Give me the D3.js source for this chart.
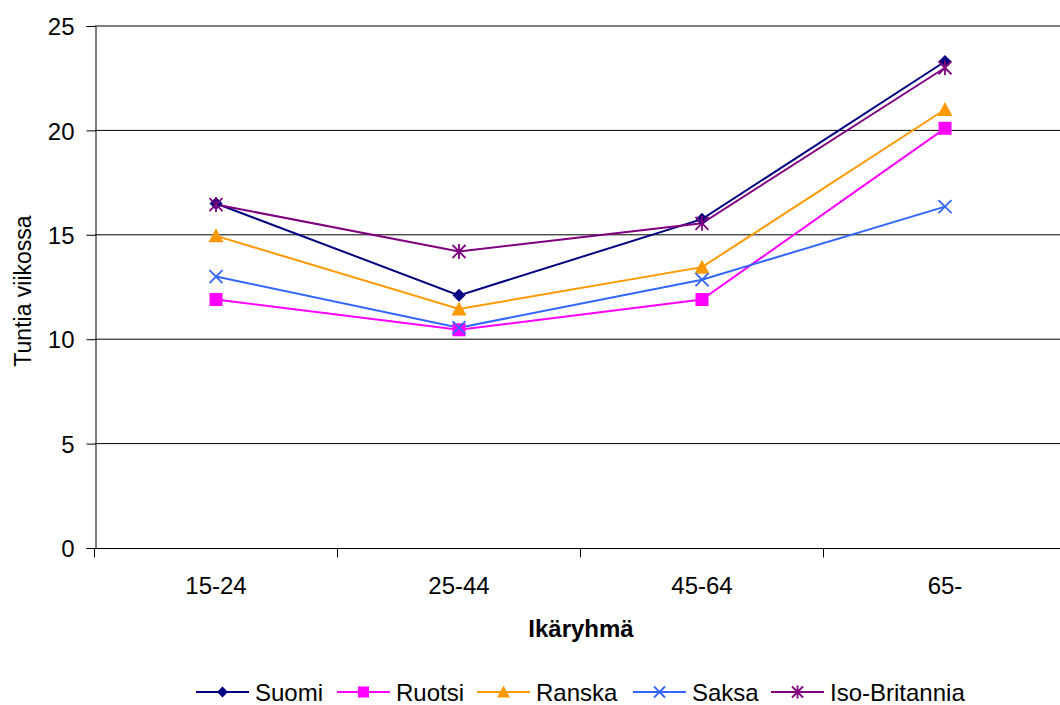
<!DOCTYPE html>
<html><head><meta charset="utf-8">
<script src="https://cdn.jsdelivr.net/npm/d3@7"></script>
<style>body{margin:0;background:#fff}svg{display:block}text{font-family:Arial,"Liberation Sans",sans-serif}</style>
</head><body>
<script>
const categories = ["15-24","25-44","45-64","65-"];
const seriesNames = ["Suomi","Ruotsi","Ranska","Saksa","Iso-Britannia"];
const suomi = [16.5, 12.1, 15.75, 23.3];
const ruotsi = [11.9, 10.45, 11.9, 20.1];
const ranska = [14.95, 11.45, 13.45, 21.0];
const saksa = [13.0, 10.55, 12.85, 16.35];
const isoBritannia = [16.45, 14.2, 15.55, 23.0];
const yTicks = [0,5,10,15,20,25];
const colors = ["#000080","#FF00FF","#FF9900","#3366FF","#800080"];
const markers = ["diamond","square","triangle","x","star"];
const values = [suomi, ruotsi, ranska, saksa, isoBritannia];

const W=1060,H=705;
const svg=d3.select("body").append("svg").attr("width",W).attr("height",H);
const x=d3.scaleBand().domain(categories).range([94.5,1066.5]);
const y=d3.scaleLinear().domain([0,25]).range([548,26]);

// gridlines
svg.append("g").selectAll("line").data(yTicks.filter(d=>d>0)).join("line")
  .attr("x1",95).attr("x2",W).attr("y1",d=>y(d)).attr("y2",d=>y(d))
  .attr("stroke","#000").attr("stroke-width",1);

// y axis
const ya=svg.append("g").attr("transform","translate(95.5,0)")
  .call(d3.axisLeft(y).tickValues(yTicks).tickSize(9).tickPadding(12));
ya.select(".domain").attr("stroke","#000");
ya.selectAll("text").attr("font-size",24).attr("fill","#000").attr("dy","0.36em");
ya.selectAll(".tick line").attr("stroke","#000");

// x axis
const xa=svg.append("g").attr("transform","translate(0,548.5)");
xa.append("line").attr("x1",95).attr("x2",W).attr("stroke","#000");
xa.selectAll("line.t").data(categories).join("line").attr("class","t")
  .attr("x1",d=>x(d)).attr("x2",d=>x(d)).attr("y1",0).attr("y2",9).attr("stroke","#000");
xa.selectAll("text").data(categories).join("text")
  .attr("x",d=>x(d)+x.bandwidth()/2).attr("y",45).attr("text-anchor","middle")
  .attr("font-size",24).text(d=>d);

// titles
svg.append("text").attr("x",581).attr("y",637).attr("text-anchor","middle")
  .attr("font-size",24).attr("font-weight","bold").text("Ikäryhmä");
svg.append("text").attr("transform","translate(31,291) rotate(-90)").attr("text-anchor","middle")
  .attr("font-size",23).text("Tuntia viikossa");

function marker(g,type,color,s){
  if(type==="diamond") g.append("path").attr("d",`M0,${-s}L${s},0L0,${s}L${-s},0Z`).attr("fill",color);
  else if(type==="square") g.append("rect").attr("x",-s).attr("y",-s).attr("width",2*s).attr("height",2*s).attr("fill",color);
  else if(type==="triangle") g.append("path").attr("d",`M0,${-s-1}L${s+1},${s}L${-s-1},${s}Z`).attr("fill",color);
  else if(type==="x") g.append("path").attr("d",`M${-s},${-s}L${s},${s}M${-s},${s}L${s},${-s}`).attr("stroke",color).attr("stroke-width",1.8);
  else if(type==="star") g.append("path").attr("d",`M${-s},${-s}L${s},${s}M${-s},${s}L${s},${-s}M0,${-s-1}L0,${s+1}`).attr("stroke",color).attr("stroke-width",1.8);
}

const line=d3.line().x((d,i)=>x(categories[i])+x.bandwidth()/2).y(d=>y(d));
values.forEach((vals,k)=>{
  svg.append("path").attr("d",line(vals)).attr("fill","none").attr("stroke",colors[k]).attr("stroke-width",2);
});
values.forEach((vals,k)=>{
  vals.forEach((v,i)=>{
    const g=svg.append("g").attr("transform",`translate(${x(categories[i])+x.bandwidth()/2},${y(v)})`);
    marker(g,markers[k],colors[k],6.5);
  });
});

// legend
const legX=[196,337,477,633,771];
seriesNames.forEach((n,k)=>{
  const g=svg.append("g").attr("transform",`translate(${legX[k]},692)`);
  g.append("line").attr("x1",0).attr("x2",53).attr("stroke",colors[k]).attr("stroke-width",2);
  const m=g.append("g").attr("transform","translate(26.5,0)");
  marker(m,markers[k],colors[k],5.5);
  g.append("text").attr("x",59).attr("y",8.5).attr("font-size",24).text(n);
});
</script>
</body></html>
